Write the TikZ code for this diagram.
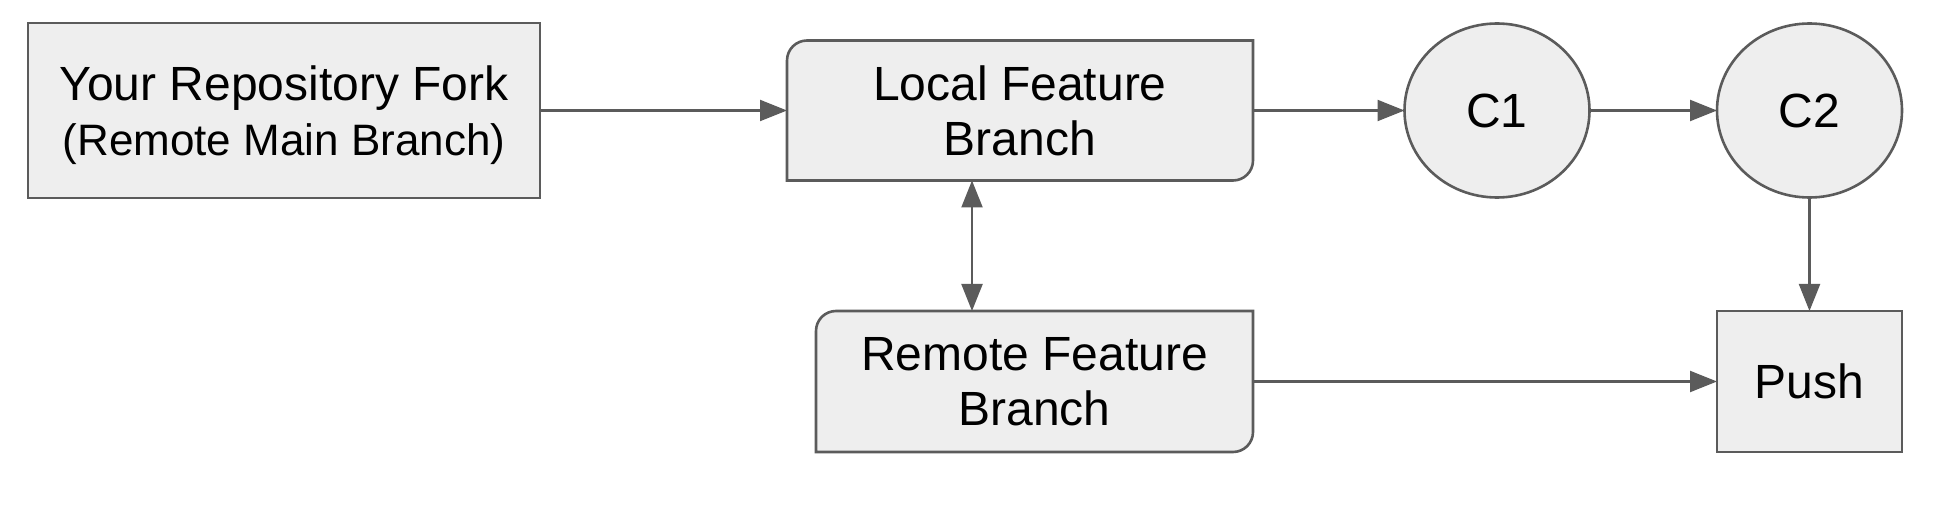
\documentclass[tikz,border=0pt]{standalone}
\usepackage{fontspec}
\setmainfont{Liberation Sans}
\usetikzlibrary{arrows.meta,shapes.geometric,backgrounds}
\definecolor{boxfill}{HTML}{EEEEEE}
\definecolor{boxline}{HTML}{5B5B5B}
\begin{document}
\begin{tikzpicture}[x=0.5pt,y=0.5pt,
  lbl/.style={font=\fontsize{24pt}{27.5pt}\selectfont, align=center, inner sep=0pt, outer sep=0pt, text=black},
  sq/.style={lbl, rectangle, draw=boxline, fill=boxfill, line width=1.3pt},
  rbox/.style={lbl, rectangle},
  cbox/.style={lbl, ellipse, draw=boxline, fill=boxfill, line width=1.3pt, minimum width=92.5pt, minimum height=87pt},
  outline/.style={draw=boxline, fill=boxfill, line width=1.3pt},
  arr/.style={draw=boxline, line width=1.1pt, -{Triangle[length=13.5pt,width=10.5pt]}},
  dblarr/.style={draw=boxline, line width=1.1pt, {Triangle[length=13.5pt,width=10.5pt]}-{Triangle[length=13.5pt,width=10.5pt]}},
]
\useasboundingbox (0,0) rectangle (1950,504);

\node[sq, minimum width=256pt, minimum height=87.5pt] (fork) at (284,393.5)
  {\rule{0pt}{22.5pt}Your Repository Fork\\\fontsize{22pt}{26pt}\selectfont (Remote Main Branch)};
\node[rbox, minimum width=233pt, minimum height=70pt] (local) at (1020,393.5)
  {Local Feature\\Branch};
\node[cbox] (c1) at (1497,393.5) {C1};
\node[cbox] (c2) at (1809.5,393.5) {C2};
\node[rbox, minimum width=218.5pt, minimum height=70.5pt] (remote) at (1034.5,122.5)
  {Remote Feature\\Branch};
\node[sq, minimum width=92.5pt, minimum height=70.5pt] (push) at (1809.5,122.5) {Push};

\begin{scope}[on background layer]
\path[outline] (local.south west) -- ([yshift=-10pt]local.north west)
  arc[start angle=180, end angle=90, radius=10pt] -- (local.north east)
  -- ([yshift=10pt]local.south east)
  arc[start angle=0, end angle=-90, radius=10pt] -- cycle;
\path[outline] (remote.south west) -- ([yshift=-10pt]remote.north west)
  arc[start angle=180, end angle=90, radius=10pt] -- (remote.north east)
  -- ([yshift=10pt]remote.south east)
  arc[start angle=0, end angle=-90, radius=10pt] -- cycle;
\end{scope}

\draw[arr] (fork.east) -- (local.west);
\draw[arr] (local.east) -- (c1.west);
\draw[arr] (c1.east) -- (c2.west);
\draw[arr] (c2.south) -- (c2.south |- push.north);
\draw[arr] (remote.east) -- (push.west);
\draw[dblarr] ([xshift=-24pt]local.south) -- ([xshift=-24pt]local.south |- remote.north);
\end{tikzpicture}
\end{document}
